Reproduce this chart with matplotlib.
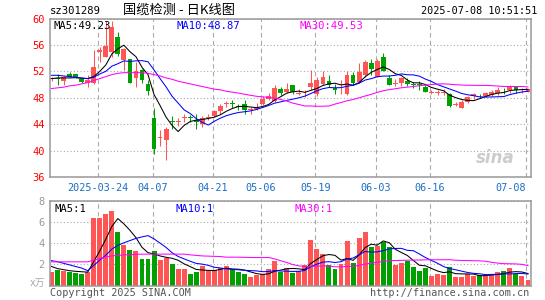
import numpy as np
import pandas as pd
import matplotlib
matplotlib.use("Agg")
import matplotlib.pyplot as plt

plt.rcParams['font.family'] = ['DejaVu Sans Mono', 'Noto Sans CJK SC']

# daily candles, 2025-03-12 .. 2025-07-08
opens = [50.8, 51.0, 50.6, 51.6, 51.6, 50.8, 50.2, 50.2, 55.0, 54.2,
         54.9, 57.2, 53.7, 53.8, 51.0, 52.2, 50.1, 45.0, 41.9, 41.6,
         44.5, 44.3, 44.9, 45.0, 44.7, 44.1, 45.0, 45.2, 46.0, 47.0,
         47.1, 46.7, 47.0, 46.1, 46.3, 47.1, 47.8, 47.5, 49.3, 48.9,
         50.0, 48.6, 48.5, 49.6, 48.6, 50.1, 50.5, 49.5, 48.8, 48.6,
         51.5, 50.4, 51.4, 53.2, 51.2, 54.1, 51.0, 50.1, 50.2, 50.5,
         50.1, 50.1, 49.7, 48.7, 48.7, 48.7, 48.6, 46.9, 46.5, 47.4,
         48.2, 48.3, 48.2, 48.4, 48.7, 49.2, 49.2, 49.6, 49.1, 48.9]
closes = [50.9, 50.9, 51.1, 51.2, 51.1, 50.4, 50.7, 52.6, 55.2, 55.9,
          58.7, 54.6, 55.4, 50.3, 52.1, 50.7, 49.0, 40.3, 42.0, 43.3,
          44.4, 44.4, 45.0, 44.9, 44.4, 44.9, 45.1, 46.0, 46.7, 47.1,
          47.0, 46.6, 46.1, 46.2, 46.6, 47.8, 48.2, 49.5, 48.7, 49.3,
          48.8, 48.7, 48.6, 50.2, 50.7, 51.1, 49.9, 49.1, 48.9, 51.4,
          50.2, 51.9, 53.4, 52.3, 53.6, 52.1, 50.0, 50.2, 51.0, 50.1,
          50.0, 50.0, 48.9, 48.8, 48.8, 48.8, 46.7, 47.0, 47.4, 48.1,
          48.6, 48.2, 48.7, 48.9, 49.1, 49.1, 49.7, 49.1, 49.2, 49.3]
highs = [51.1, 51.6, 51.3, 51.9, 51.6, 51.0, 51.4, 55.3, 55.7, 59.6,
         59.6, 58.0, 55.6, 53.9, 53.4, 52.3, 50.7, 46.4, 43.1, 43.6,
         45.2, 44.9, 45.6, 45.4, 45.6, 45.3, 45.6, 46.2, 47.1, 47.5,
         47.6, 47.1, 47.7, 46.6, 47.2, 48.2, 48.7, 49.9, 49.6, 50.3,
         50.0, 49.3, 49.1, 52.2, 51.1, 52.0, 51.4, 50.1, 50.7, 52.0,
         51.9, 53.2, 53.7, 53.9, 53.9, 54.8, 51.4, 50.9, 51.1, 51.0,
         50.4, 50.6, 50.0, 49.2, 49.2, 49.3, 48.7, 47.4, 47.6, 48.2,
         48.7, 48.6, 48.8, 49.1, 49.7, 49.5, 50.0, 49.8, 49.5, 49.4]
lows = [50.5, 49.9, 49.9, 51.1, 51.0, 50.3, 49.6, 50.1, 53.4, 54.2,
        54.2, 54.3, 52.2, 50.2, 49.7, 50.2, 48.4, 39.5, 40.7, 38.6,
        43.3, 43.7, 44.4, 44.4, 43.3, 43.6, 44.6, 45.1, 45.5, 46.6,
        46.4, 46.1, 45.6, 45.6, 46.1, 46.9, 47.7, 47.3, 48.4, 48.7,
        48.6, 48.4, 48.1, 49.1, 48.2, 49.9, 49.7, 48.6, 48.6, 48.4,
        49.9, 50.2, 51.1, 51.4, 51.1, 52.0, 49.9, 49.8, 49.8, 49.8,
        49.5, 49.2, 48.8, 48.5, 48.4, 48.4, 46.6, 46.7, 46.4, 47.2,
        47.8, 47.9, 48.1, 48.2, 48.4, 48.6, 48.7, 48.7, 48.7, 48.8]
volumes = [1.29, 1.48, 1.42, 1.32, 1.20, 1.10, 1.29, 6.39, 6.39, 6.77,
           7.09, 5.07, 3.84, 3.37, 3.28, 2.52, 2.52, 3.28, 2.39, 2.65,
           2.05, 1.57, 1.57, 1.10, 1.29, 1.80, 1.39, 1.48, 1.70, 1.80,
           1.45, 1.29, 1.07, 0.82, 1.00, 1.07, 1.57, 2.33, 1.32, 1.64,
           1.20, 1.39, 1.95, 4.31, 3.46, 2.99, 1.95, 1.57, 2.05, 4.22,
           2.11, 4.50, 5.07, 3.65, 3.75, 4.13, 3.65, 1.95, 2.14, 2.33,
           1.76, 1.39, 1.70, 0.91, 1.10, 1.00, 1.76, 0.82, 0.82, 1.07,
           0.91, 1.00, 0.91, 1.10, 1.26, 1.39, 1.67, 1.13, 0.94, 0.54]

# moving-average values before their windows fill
ma5_head = [50.9, 51.0, 51.0, 51.0]
ma10_head = [51.4, 51.4, 51.3, 51.2, 51.1, 51.0, 50.9, 51.1, 51.6]
ma30_head = [49.4, 49.5, 49.6, 49.8, 49.9, 50.1, 50.3, 50.6, 50.9, 51.2,
             51.5, 51.7, 51.8, 51.8, 51.8, 51.8, 51.7, 51.5, 51.3, 51.0,
             50.8, 50.5, 50.3, 50.1, 49.9, 49.7, 49.5, 49.3, 49.2]
vma5_head = [1.8, 1.6, 1.5, 1.4]
vma10_head = [2.35, 2.25, 2.1, 1.95, 1.8, 1.65, 1.4, 1.9, 2.4]
vma30_head = [2.24, 2.24, 2.24, 2.24, 2.24, 2.24, 2.24, 2.4, 2.55, 2.7,
              2.8, 2.85, 2.9, 2.92, 2.95, 2.97, 2.97, 2.97, 2.97, 2.97,
              2.97, 2.97, 2.97, 2.9, 2.85, 2.8, 2.78, 2.76, 2.74]

tick_idx = [8, 17, 27, 35, 44, 54, 63, 79]
tick_labels = ["2025-03-24", "04-07", "04-21", "05-06", "05-19", "06-03", "06-16", "07-08"]

RED = '#ff5555'
GREEN = '#00a000'
GRID = '#aaaaaa'


def moving_avg(values, n, head):
    out = pd.Series(values).rolling(n).mean().to_numpy()
    out[:len(head)] = head
    return out


o = np.array(opens)
c = np.array(closes)
x = np.arange(len(c))
colors = [RED if cc >= oo else GREEN for oo, cc in zip(o, c)]

fig = plt.figure(figsize=(5.45, 3.0), dpi=100)


def px_axes(l, t, r, b):
    return fig.add_axes([l / 545, 1 - b / 300, (r - l) / 545, (b - t) / 300])


ax = px_axes(50, 18.5, 531, 177)
axv = px_axes(50, 201, 531, 285.5)

for a in (ax, axv):
    for s in a.spines.values():
        s.set_color('#999999')
        s.set_linewidth(1.1)
    a.set_xlim(-0.25, 79.5)
    for i in tick_idx:
        a.axvline(i - 0.25, color=GRID, ls=(0, (4, 3)), lw=0.8, zorder=0)
    a.tick_params(length=0)

# price panel
ax.vlines(x, lows, highs, colors=colors, lw=0.75, zorder=2)
ax.bar(x, np.maximum(np.abs(c - o), 0.13), bottom=np.minimum(o, c),
       width=0.8, color=colors, lw=0, zorder=3)
ax.plot(x, moving_avg(closes, 5, ma5_head), color='black', lw=0.75, zorder=4)
ax.plot(x, moving_avg(closes, 10, ma10_head), color='#0000ff', lw=0.75, zorder=4)
ax.plot(x, moving_avg(closes, 30, ma30_head), color='#ff00ff', lw=0.75, zorder=4)
ax.set_ylim(36, 60)
ax.set_yticks([36, 40, 44, 48, 52, 56, 60])
ax.tick_params(axis='y', colors='red', labelsize=7.5, pad=4)
ax.grid(axis='y', color=GRID, ls=(0, (1, 2)), lw=0.8)
ax.set_axisbelow(True)
ax.set_xticks([i - 0.25 for i in tick_idx], tick_labels)
ax.tick_params(axis='x', colors='#1a6fc4', labelsize=7.3, pad=4)
ax.get_xticklabels()[-1].set_ha('right')

ax.text(0.008, 0.985, "MA5:49.23", transform=ax.transAxes, color='black',
        fontsize=7.6, va='top', zorder=6)
ax.text(0.264, 0.985, "MA10:48.87", transform=ax.transAxes, color='#0000ff',
        fontsize=7.6, va='top', zorder=6)
ax.text(0.518, 0.985, "MA30:49.53", transform=ax.transAxes, color='#ff00ff',
        fontsize=7.6, va='top', zorder=6)
ax.text(0.965, 0.09, "sina", transform=ax.transAxes, color='#cccccc', fontsize=12,
        fontweight='bold', style='italic', ha='right', family='DejaVu Sans', zorder=1)

# volume panel
axv.bar(x, volumes, width=0.82, color=colors, lw=0, zorder=2)
axv.plot(x, moving_avg(volumes, 5, vma5_head), color='black', lw=0.75, zorder=4)
axv.plot(x, moving_avg(volumes, 10, vma10_head), color='#0000ff', lw=0.75, zorder=4)
axv.plot(x, moving_avg(volumes, 30, vma30_head), color='#ff00ff', lw=0.75, zorder=4)
axv.set_ylim(0, 8)
axv.set_yticks([0, 2, 4, 6, 8], ['', '2', '4', '6', '8'])
axv.tick_params(axis='y', colors='#999999', labelsize=7.5, pad=4)
axv.set_xticks([])
axv.grid(axis='y', color=GRID, ls=(0, (1, 2)), lw=0.8)
axv.set_axisbelow(True)
axv.text(0.01, 0.97, "MA5:1", transform=axv.transAxes, color='black',
         fontsize=7.6, va='top', zorder=6)
axv.text(0.26, 0.97, "MA10:1", transform=axv.transAxes, color='#0000ff',
         fontsize=7.6, va='top', zorder=6)
axv.text(0.508, 0.97, "MA30:1", transform=axv.transAxes, color='#ff00ff',
         fontsize=7.6, va='top', zorder=6)

# header and footer
fig.text(50 / 545, 1 - 11 / 300, "sz301289", fontsize=7.6, va='center')
fig.text(123 / 545, 1 - 10 / 300, "国缆检测 - 日K线图", fontsize=9.5, va='center',
         family=['Noto Sans CJK SC', 'DejaVu Sans'])
fig.text(537 / 545, 1 - 11 / 300, "2025-07-08 10:51:51", fontsize=7.3,
         va='center', ha='right')
fig.text(45 / 545, 1 - 283 / 300, "x万", fontsize=7, va='center', ha='right',
         color='#aaaaaa', family=['DejaVu Sans', 'Noto Sans CJK SC'])
fig.text(50 / 545, 1 - 293 / 300, "Copyright 2025 SINA.COM", fontsize=7.3,
         va='center', color='#555555')
fig.text(529 / 545, 1 - 293 / 300, "http://finance.sina.com.cn", fontsize=7.3,
         va='center', ha='right', color='#555555')

fig.savefig("out.png", dpi=100)
